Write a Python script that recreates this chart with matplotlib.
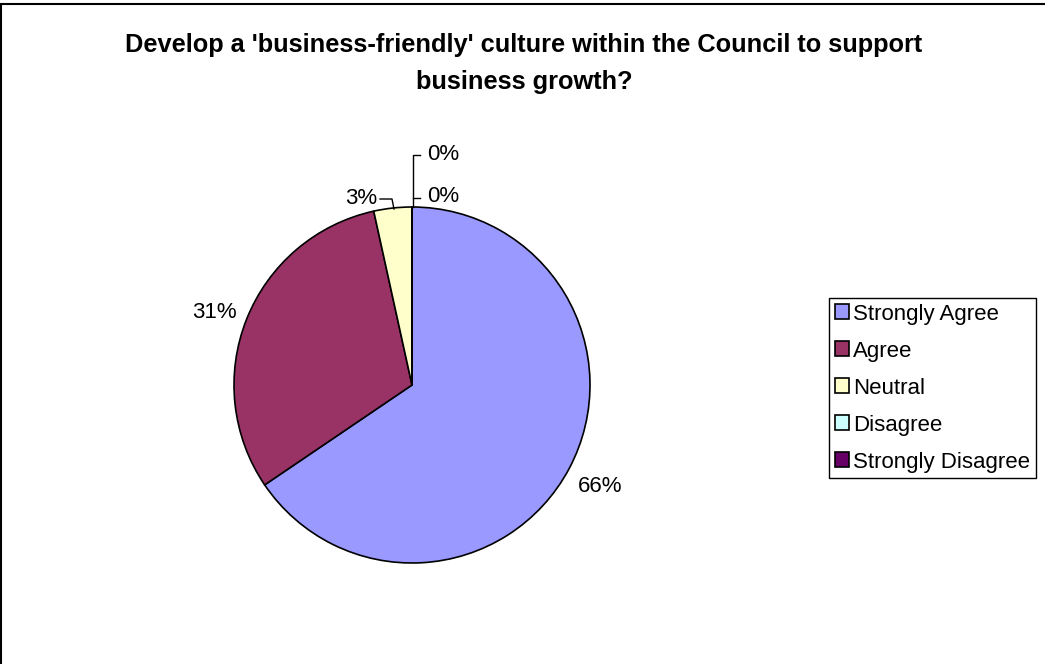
import matplotlib
matplotlib.use("Agg")
import matplotlib.pyplot as plt
from matplotlib.patches import Rectangle

plt.rcParams['font.family'] = ['Liberation Sans', 'DejaVu Sans']

# Survey responses
categories = ["Strongly Agree", "Agree", "Neutral", "Disagree", "Strongly Disagree"]
counts = [19, 9, 1, 0, 0]
colors = ["#9999FF", "#993366", "#FFFFCC", "#CCFFFF", "#660066"]
title = "Develop a 'business-friendly' culture within the Council to support\nbusiness growth?"

W, H = 1045, 664
fig = plt.figure(figsize=(W / 100, H / 100), dpi=100)
ax = fig.add_axes([0, 0, 1, 1])

cx, cy, r = 412, H - 385, 178
wedges, _ = ax.pie(counts, colors=colors, startangle=90, counterclock=False,
                   center=(cx, cy), radius=r, labels=None,
                   wedgeprops=dict(edgecolor="black", linewidth=1.2))
for w, lab in zip(wedges, categories):
    w.set_label(lab)

ax.set_xlim(0, W)
ax.set_ylim(0, H)
ax.set_aspect("auto")
ax.axis("off")

total = sum(counts)
pcts = [f"{round(100 * c / total):.0f}%" for c in counts]

# Percentage labels
fs = 16
ax.text(600, H - 486, pcts[0], ha="center", va="center", fontsize=fs)
ax.text(237, H - 312, pcts[1], ha="right", va="center", fontsize=fs)
ax.text(377, H - 198, pcts[2], ha="right", va="center", fontsize=fs)
ax.text(427, H - 197, pcts[3], ha="left", va="center", fontsize=fs)
ax.text(427, H - 155, pcts[4], ha="left", va="center", fontsize=fs)

# Leader lines for small slices
lk = dict(color="black", linewidth=1.0)
ax.plot([394, 392, 380], [H - 209, H - 199, H - 199], **lk)
ax.plot([413, 413, 420], [H - 207, H - 155, H - 155], **lk)
ax.plot([413, 420], [H - 198, H - 198], **lk)

# Title, two centred lines
for line, base in zip(title.split("\n"), [52, 89]):
    ax.text(524, H - base, line, ha="center", va="baseline", fontsize=18.3,
            fontweight="bold")

# Outer border
ax.add_patch(Rectangle((1, -10), W + 20, H - 4 + 10, fill=False,
                       edgecolor="black", linewidth=1.5, clip_on=False))

leg = ax.legend(handles=wedges, loc="upper left", bbox_to_anchor=(829, H - 298),
                bbox_transform=ax.transData, frameon=True, fancybox=False,
                edgecolor="black", framealpha=1, fontsize=fs,
                handlelength=0.63, handleheight=0.63, handletextpad=0.22,
                labelspacing=0.72, borderpad=0.25, borderaxespad=0)
leg.get_frame().set_linewidth(1.0)

fig.savefig("out.png", dpi=100)
